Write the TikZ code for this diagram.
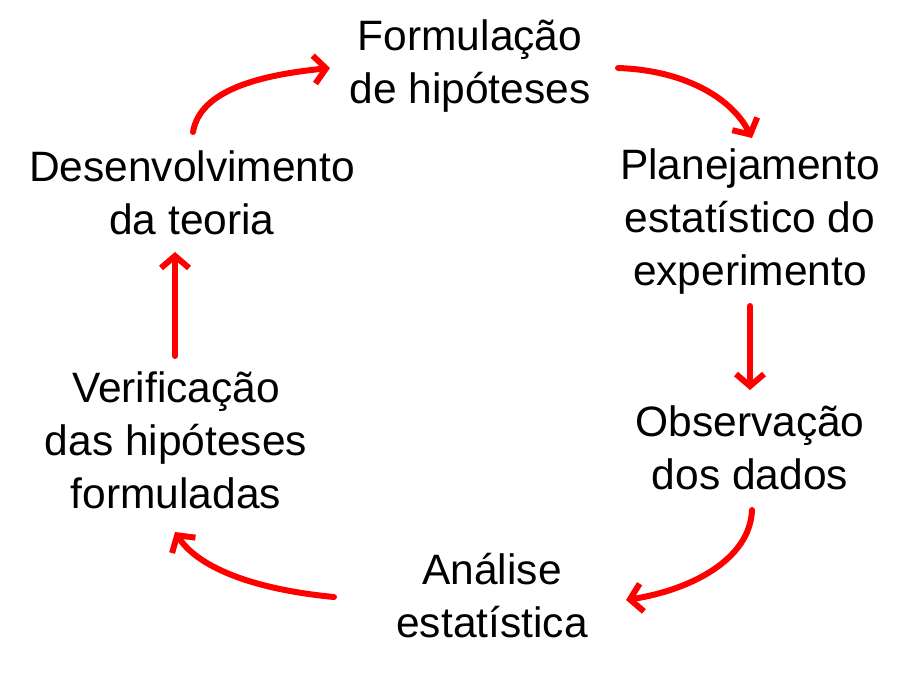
\documentclass[tikz,border=0pt]{standalone}
\usepackage{fontspec}
\setmainfont{Liberation Sans}
\usetikzlibrary{positioning,arrows.meta}
\tikzset{
  step box/.style={align=center, font=\fontsize{42.5}{53}\selectfont, inner sep=0pt},
  cycle arrow/.style={draw=red, line width=6pt, line cap=round,
    -{Straight Barb[length=12pt,width=28pt,line width=6pt]}}
}
\begin{document}
\begin{tikzpicture}[x=1pt,y=-1pt]
    \useasboundingbox (0,0) rectangle (918,673);
    % Steps of the cycle
    \node[step box] (hyp) at (470,66) {Formulação\\de hipóteses};
    \node[step box] (plan) at (750,222) {Planejamento\\estatístico do\\experimento};
    \node[step box] (obs) at (750,448) {Observação\\dos dados};
    \node[step box] (ana) at (492,596) {Análise\\estatística};
    \node[step box] (ver) at (176,440) {Verificação\\das hipóteses\\formuladas};
    \node[step box] (teo) at (192,193) {Desenvolvimento\\da teoria};
    % Arrow ends
    \coordinate (a1) at (193,132); \coordinate (b1) at (330,68);
    \coordinate (a2) at (618,68);  \coordinate (b2) at (752,138);
    \coordinate (a3) at (750,306); \coordinate (b3) at (750,390);
    \coordinate (a4) at (752,510); \coordinate (b4) at (626,600);
    \coordinate (a5) at (334,597); \coordinate (b5) at (175,532);
    \coordinate (a6) at (175,356); \coordinate (b6) at (175,252);
    % Connectors
    \draw[cycle arrow] (a1) .. controls (200,90) and (260,75) .. (b1);
    \draw[cycle arrow] (a2) .. controls (680,70) and (730,95) .. (b2);
    \draw[cycle arrow] (a3) -- (b3);
    \draw[cycle arrow] (a4) .. controls (750,560) and (690,590) .. (b4);
    \draw[cycle arrow] (a5) .. controls (260,590) and (200,570) .. (b5);
    \draw[cycle arrow] (a6) -- (b6);
\end{tikzpicture}
\end{document}
